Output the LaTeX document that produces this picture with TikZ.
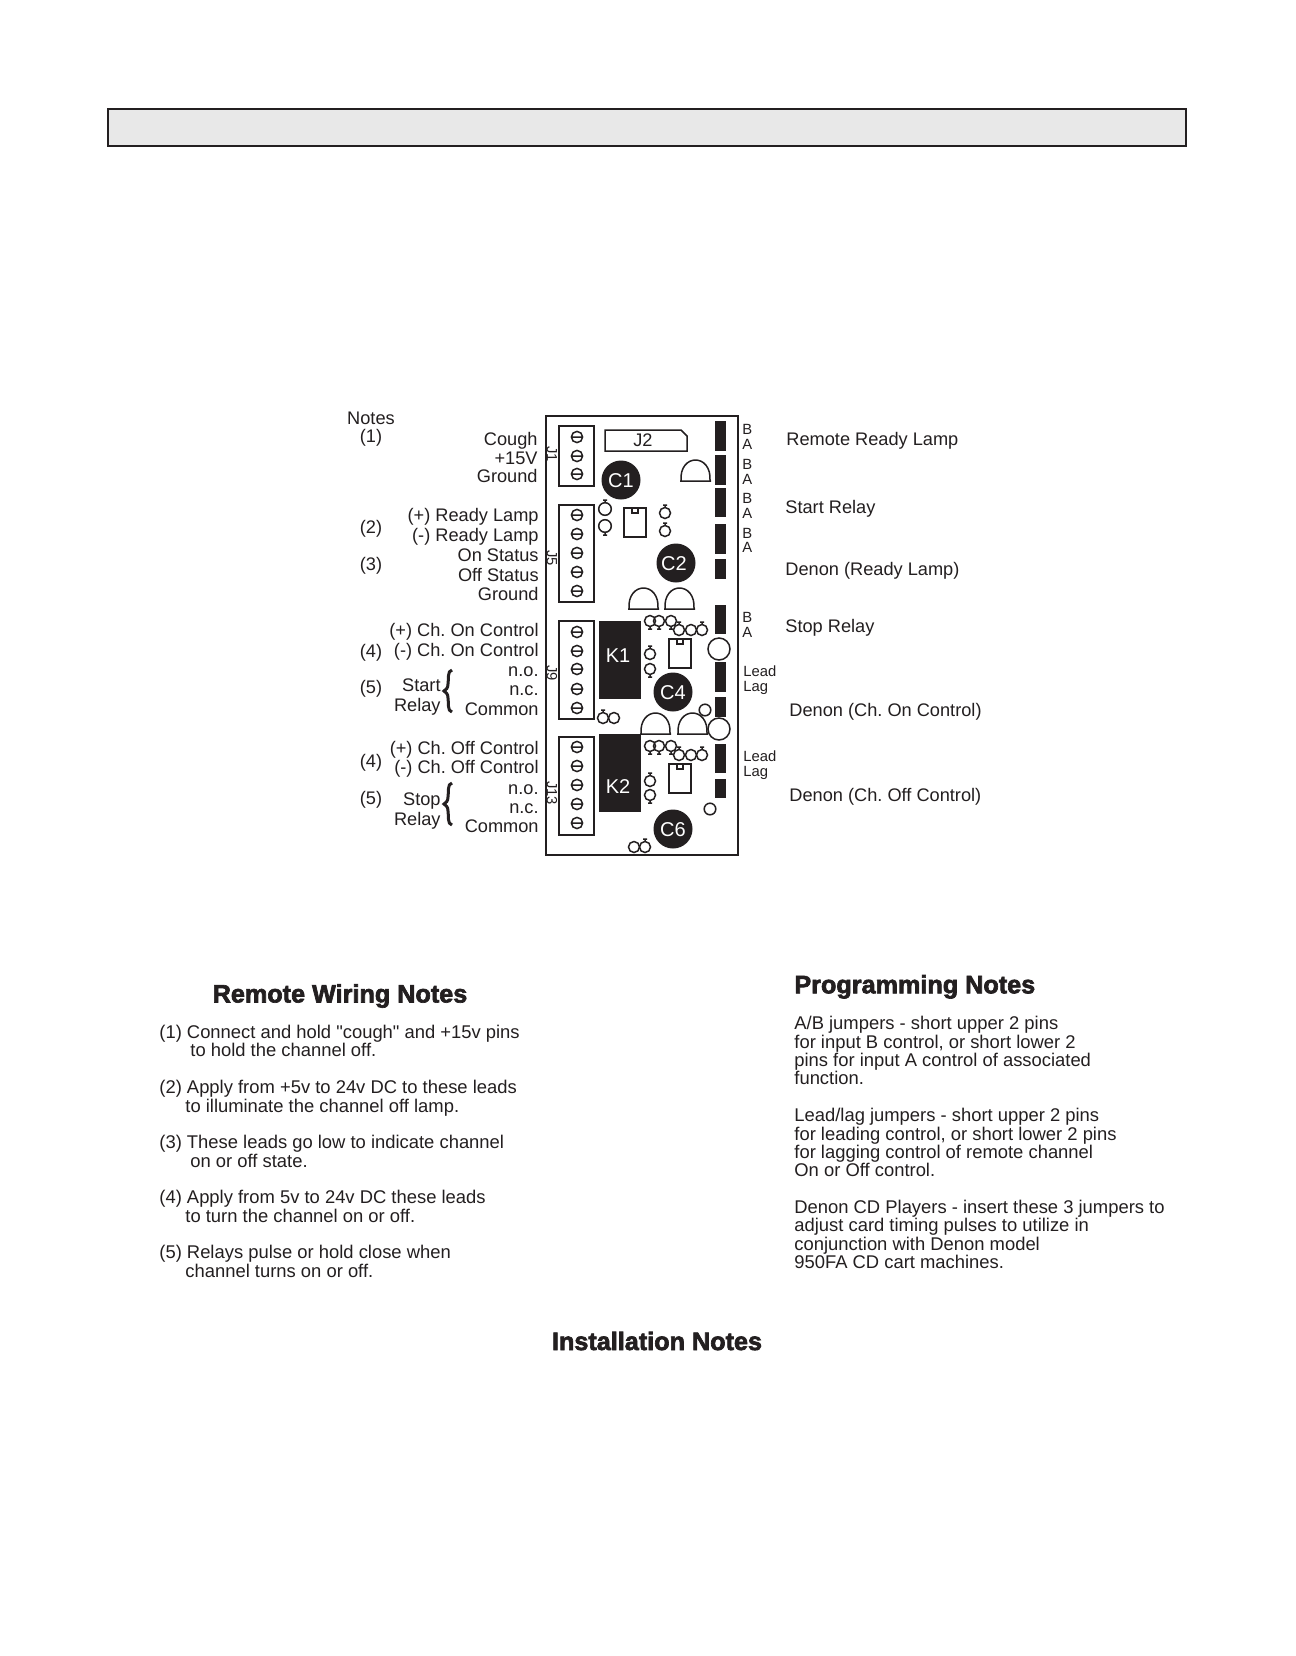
\documentclass[tikz,border=0pt]{standalone}
\usepackage{fontspec}
\setmainfont{Liberation Sans}[Ligatures=TeXOff]
\newfontfamily\blk[FakeBold=2.6]{Liberation Sans Bold}
\newcounter{nn}
\definecolor{ink}{HTML}{231F20}
\tikzset{
 txt/.style={inner sep=0pt,text=ink,font=\fontsize{9.1}{11}\selectfont,yshift=-1.1pt},
 small/.style={inner sep=0pt,text=ink,font=\fontsize{7.4}{9}\selectfont},
 body/.style={inner sep=0pt,text=ink,font=\fontsize{9.2}{11}\selectfont,anchor=mid west,yshift=-0.5pt},
 head/.style={inner sep=0pt,text=ink,font=\blk\fontsize{12.6}{14}\selectfont},
 rev/.style={inner sep=0pt,text=ink,font=\fontsize{7.4}{9}\selectfont,rotate=-90},
 whitetxt/.style={inner sep=0pt,text=white,font=\fontsize{10}{12}\selectfont,yshift=-0.4pt},
 part/.style={draw=ink,line width=0.75pt},
}
\newcommand\R[3]{\stepcounter{nn}\node[txt,anchor=mid east] (n\arabic{nn}) at (#1,#2) {#3};}
\newcommand\Lf[3]{\stepcounter{nn}\node[txt,anchor=mid west] (n\arabic{nn}) at (#1,#2) {#3};}
\newcommand\Ct[3]{\stepcounter{nn}\node[txt,anchor=mid] (n\arabic{nn}) at (#1,#2) {#3};}
\newcommand\Bd[3]{\stepcounter{nn}\node[body] (n\arabic{nn}) at (#1,#2) {#3};}
\newcommand\Sm[3]{\stepcounter{nn}\node[small,anchor=mid west] (n\arabic{nn}) at (#1,#2) {#3};}
\newcommand\Rv[3]{\stepcounter{nn}\node[rev] (n\arabic{nn}) at (#1,#2) {#3};}
\newcommand\Cap[4]{\fill[ink] (#1,#2) circle[radius=19.5];\stepcounter{nn}\node[whitetxt] (n\arabic{nn}) at (#1+#4,#2) {#3};}
\newcommand\Screw[2]{\draw[part] (#1,#2) circle[radius=5.6] (#1-5.6,#2) -- (#1+5.6,#2);}
\newcommand\Pad[3]{\draw[part] (#1,#2) circle[radius=5.5] (#1,#2+#3*5.5) -- (#1,#2+#3*8) (#1-2,#2+#3*8) -- (#1+2,#2+#3*8);}
\newcommand\BigPad[3]{\draw[part] (#1,#2) circle[radius=6.3] (#1,#2+#3*6.3) -- (#1,#2+#3*9) (#1-2,#2+#3*9) -- (#1+2,#2+#3*9);}
\newcommand\Ring[3]{\draw[part] (#1,#2) circle[radius=#3];}
\newcommand\Dome[2]{\draw[part] (#1,#2) -- (#1+31,#2) (#1+1,#2) .. controls (#1-1,#2-28) and (#1+32,#2-28) .. (#1+30,#2);}
\newcommand\Dip[2]{\draw[part] (#1,#2) rectangle (#1+22,#2+29) (#1+8,#2) -- (#1+8,#2+5) -- (#1+14,#2+5) -- (#1+14,#2);}
\newcommand\Bar[2]{\fill[ink] (715,#1) rectangle (726,#2);}
\begin{document}
\frenchspacing
\begin{tikzpicture}[x=0.5pt,y=-0.5pt]
\useasboundingbox (0,0) rectangle (1296,1656);
\fill[white] (0,0) rectangle (1296,1656);
\draw[draw=ink,fill=black!9,line width=1pt] (108,109) rectangle (1186,146);
% board
\draw[draw=ink,line width=1.2pt] (546,416) rectangle (738,855);
% terminal blocks
\draw[part] (559,426) rectangle (594,486);
\foreach \y in {437,456,474} {\Screw{577}{\y}}
\draw[part] (559,505) rectangle (594,602);
\foreach \y in {515,534,553,572,591} {\Screw{577}{\y}}
\draw[part] (559,621) rectangle (594,719);
\foreach \y in {632,651,669,689,708} {\Screw{577}{\y}}
\draw[part] (559,737) rectangle (594,835);
\foreach \y in {747,766,785,804,823} {\Screw{577}{\y}}
\Rv{552}{454}{J1}\Rv{552}{558}{J5}\Rv{552}{673}{J9}\Rv{552}{793}{J13}
% J2
\draw[part] (605,430) -- (681,430) -- (687,436) -- (687,451) -- (605,451) -- cycle;
\Ct{643}{439}{J2}
% caps
\Cap{621}{480}{C1}{0}\Cap{676}{563}{C2}{-2}\Cap{673}{692}{C4}{0}\Cap{673}{829}{C6}{0}
% relays
\fill[ink] (599,621) rectangle (641,699);
\fill[ink] (599,734) rectangle (641,812);
\stepcounter{nn}\node[whitetxt] (n\arabic{nn}) at (618,655) {K1};
\stepcounter{nn}\node[whitetxt] (n\arabic{nn}) at (618,786) {K2};
% jumper bars
\Bar{421}{451}\Bar{455}{485}\Bar{488}{517}\Bar{524}{554}\Bar{559}{579}
\Bar{605}{634}\Bar{662}{692}\Bar{697}{717}\Bar{744}{773}\Bar{779}{798}
% domes
\Dome{680}{481}\Dome{628}{609}\Dome{664}{609}\Dome{640}{734}\Dome{677}{734}
% rings
\Ring{719}{649}{11}\Ring{719}{729}{11}\Ring{705}{710}{5.8}\Ring{710}{809}{5.8}
% dips
\Dip{624}{508}\Dip{669}{639}\Dip{669}{764}
% pads
\BigPad{605}{509}{-1}\BigPad{605}{526}{1}
\Pad{665}{513}{-1}\Pad{665}{531}{-1}
\Pad{650}{621}{1}\Pad{659}{621}{1}\Pad{671}{621}{1}
\Pad{679}{630}{-1}\Ring{691}{630}{5.5}\Pad{702}{630}{-1}
\Pad{650}{746}{1}\Pad{659}{746}{1}\Pad{671}{746}{1}
\Pad{679}{755}{-1}\Ring{691}{755}{5.5}\Pad{702}{755}{-1}
\Pad{650}{654}{-1}\Pad{650}{669}{1}
\Pad{650}{781}{-1}\Pad{650}{795}{1}
\Pad{603}{718}{-1}\Ring{614}{718}{5.5}
\Ring{634}{847}{5.5}\Pad{645}{847}{-1}
% BA labels
\Sm{742}{429}{B}\Sm{742}{444}{A}
\Sm{742}{464}{B}\Sm{742}{479}{A}
\Sm{742}{498}{B}\Sm{742}{513}{A}
\Sm{742}{533}{B}\Sm{742}{547}{A}
\Sm{742}{617}{B}\Sm{742}{632}{A}
\Sm{743}{671}{Lead}\Sm{743}{686}{Lag}
\Sm{743}{756}{Lead}\Sm{743}{771}{Lag}
% left labels
\Ct{371}{417}{Notes}\Ct{371}{435}{(1)}\Ct{371}{526}{(2)}\Ct{371}{563}{(3)}
\Ct{371}{650}{(4)}\Ct{371}{686}{(5)}\Ct{371}{760}{(4)}\Ct{371}{797}{(5)}
\R{538}{438}{Cough}\R{538}{457}{+15V}\R{538}{475}{Ground}
\R{539}{514}{(+) Ready Lamp}\R{539}{534}{(-) Ready Lamp}\R{539}{554}{On Status}\R{539}{574}{Off Status}\R{539}{593}{Ground}
\R{539}{629}{(+) Ch. On Control}\R{539}{649}{(-) Ch. On Control}\R{539}{669}{n.o.}\R{539}{688}{n.c.}\R{539}{708}{Common}
\R{539}{747}{(+) Ch. Off Control}\R{539}{766}{(-) Ch. Off Control}\R{539}{787}{n.o.}\R{539}{806}{n.c.}\R{539}{825}{Common}
\R{441}{684}{Start}\R{441}{704}{Relay}\R{441}{798}{Stop}\R{441}{818}{Relay}
% braces
\foreach \y in {691,804} {
 \draw[ink,line width=1.5pt] (452,\y-21) .. controls (447,\y-20) and (449,\y-12) .. (448,\y-7) .. controls (448,\y-3) and (446,\y-1) .. (444,\y) .. controls (446,\y+1) and (448,\y+3) .. (448,\y+7) .. controls (449,\y+12) and (447,\y+20) .. (452,\y+21);
}
% right labels
\Lf{786}{438}{Remote Ready Lamp}\Lf{785}{506}{Start Relay}\Lf{785}{568}{Denon (Ready Lamp)}
\Lf{785}{625}{Stop Relay}\Lf{789}{709}{Denon (Ch. On Control)}\Lf{789}{794}{Denon (Ch. Off Control)}
% headings
\stepcounter{nn}\node[head] (n\arabic{nn}) at (340,996) {Remote Wiring Notes};
\stepcounter{nn}\node[head,anchor=mid west] (n\arabic{nn}) at (794,988) {Programming Notes};
\stepcounter{nn}\node[head] (n\arabic{nn}) at (657,1341) {Installation Notes};
% notes
\Bd{159}{1032}{(1) Connect and hold "cough" and +15v pins}
\Bd{190}{1050}{to hold the channel off.}
\Bd{159}{1087}{(2) Apply from +5v to 24v DC to these leads}
\Bd{185}{1106}{to illuminate the channel off lamp.}
\Bd{159}{1142}{(3) These leads go low to indicate channel}
\Bd{190}{1161}{on or off state.}
\Bd{159}{1197}{(4) Apply from 5v to 24v DC these leads}
\Bd{185}{1216}{to turn the channel on or off.}
\Bd{159}{1252}{(5) Relays pulse or hold close when}
\Bd{185}{1271}{channel turns on or off.}
\Bd{794}{1023}{A/B jumpers - short upper 2 pins}
\Bd{794}{1042}{for input B control, or short lower 2}
\Bd{794}{1060}{pins for input A control of associated}
\Bd{794}{1078}{function.}
\Bd{794}{1115}{Lead/lag jumpers - short upper 2 pins}
\Bd{794}{1134}{for leading control, or short lower 2 pins}
\Bd{794}{1152}{for lagging control of remote channel}
\Bd{794}{1170}{On or Off control.}
\Bd{794}{1207}{Denon CD Players - insert these 3 jumpers to}
\Bd{794}{1225}{adjust card timing pulses to utilize in}
\Bd{794}{1244}{conjunction with Denon model}
\Bd{794}{1262}{950FA CD cart machines.}
\end{tikzpicture}
\end{document}
